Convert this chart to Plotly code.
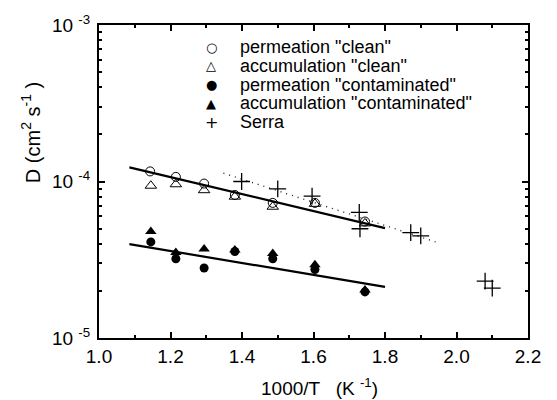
import plotly.graph_objects as go

# 1000/T (K^-1) and diffusion coefficient D (cm^2 s^-1)
x_perm_clean = [1.143, 1.215, 1.294, 1.380, 1.486, 1.604, 1.744]
d_perm_clean = [1.16e-4, 1.07e-4, 9.7e-5, 8.2e-5, 7.3e-5, 7.3e-5, 5.55e-5]

x_acc_clean = [1.145, 1.215, 1.294, 1.380, 1.486, 1.604, 1.744]
d_acc_clean = [9.4e-5, 9.6e-5, 8.8e-5, 8.0e-5, 6.9e-5, 7.2e-5, 5.4e-5]

x_perm_cont = [1.145, 1.215, 1.294, 1.380, 1.486, 1.604, 1.744]
d_perm_cont = [4.11e-5, 3.21e-5, 2.8e-5, 3.57e-5, 3.21e-5, 2.74e-5, 1.97e-5]

x_acc_cont = [1.145, 1.215, 1.294, 1.380, 1.486, 1.604, 1.744]
d_acc_cont = [4.8e-5, 3.52e-5, 3.7e-5, 3.65e-5, 3.47e-5, 2.94e-5, 2.03e-5]

x_serra = [1.399, 1.500, 1.596, 1.728, 1.730, 1.872, 1.900, 2.080, 2.100]
d_serra = [1.0e-4, 8.97e-5, 8.07e-5, 6.35e-5, 4.99e-5, 4.71e-5, 4.49e-5, 2.31e-5, 2.08e-5]

# Arrhenius fits (end points)
x_fit = [1.085, 1.800]
d_fit_clean = [1.23e-4, 5.04e-5]
d_fit_cont = [3.98e-5, 2.12e-5]
x_fit_serra = [1.348, 1.949]
d_fit_serra = [1.13e-4, 4.06e-5]

x_ticks = [1.0, 1.2, 1.4, 1.6, 1.8, 2.0, 2.2]
x_tick_text = ["1.0", "1.2", "1.4", "1.6", "1.8", "2.0", "2.2"]
y_ticks = [1e-5, 1e-4, 1e-3]
y_tick_text = ["10 <sup>-5</sup>", "10 <sup>-4</sup>", "10 <sup>-3</sup>"]

# key entries: glyph and label
key_glyphs = ["○", "△", "●", "▲", "+"]
key_labels = ['permeation "clean"', 'accumulation "clean"',
              'permeation "contaminated"', 'accumulation "contaminated"', "Serra"]

FONT = "Arial, Liberation Sans, sans-serif"
fig = go.Figure()

fig.add_trace(go.Scatter(x=x_fit, y=d_fit_clean, mode="lines",
                         line=dict(color="black", width=2.2), showlegend=False))
fig.add_trace(go.Scatter(x=x_fit, y=d_fit_cont, mode="lines",
                         line=dict(color="black", width=2.2), showlegend=False))
fig.add_trace(go.Scatter(x=x_fit_serra, y=d_fit_serra, mode="lines",
                         line=dict(color="#222", width=1.4, dash="1px,5px"), showlegend=False))

fig.add_trace(go.Scatter(x=x_perm_clean, y=d_perm_clean, mode="markers",
                         name=key_labels[0], showlegend=False,
                         marker=dict(symbol="circle-open", size=9, color="black",
                                     line=dict(width=1))))
fig.add_trace(go.Scatter(x=x_acc_clean, y=d_acc_clean, mode="markers",
                         name=key_labels[1], showlegend=False,
                         marker=dict(symbol="triangle-up-open", size=10, color="black",
                                     line=dict(width=1))))
fig.add_trace(go.Scatter(x=x_perm_cont, y=d_perm_cont, mode="markers",
                         name=key_labels[2], showlegend=False,
                         marker=dict(symbol="circle", size=9, color="black")))
fig.add_trace(go.Scatter(x=x_acc_cont, y=d_acc_cont, mode="markers",
                         name=key_labels[3], showlegend=False,
                         marker=dict(symbol="triangle-up", size=10, color="black")))
fig.add_trace(go.Scatter(x=x_serra, y=d_serra, mode="markers",
                         name=key_labels[4], showlegend=False,
                         marker=dict(symbol="cross-thin-open", size=12, color="black",
                                     line=dict(width=1.3, color="black"))))

fig.update_xaxes(range=[1.0, 2.2], tickvals=x_ticks, ticktext=x_tick_text,
                 ticks="inside", ticklen=6, tickwidth=1.5, tickcolor="black",
                 minor=dict(ticks="inside", ticklen=3, tickwidth=1.5, tickcolor="black",
                            tickvals=[1.1, 1.3, 1.5, 1.7, 1.9, 2.1]),
                 showline=True, linewidth=2, linecolor="black", mirror="ticks",
                 showgrid=False, zeroline=False,
                 tickfont=dict(family=FONT, size=19, color="black"))
fig.update_yaxes(type="log", range=[-5, -3], tickvals=y_ticks, ticktext=y_tick_text,
                 ticks="inside", ticklen=6, tickwidth=1.5, tickcolor="black",
                 ticklabelstandoff=3,
                 minor=dict(ticks="inside", ticklen=3, tickwidth=1.5, tickcolor="black",
                            tickvals=[k * 1e-5 for k in range(2, 10)] + [k * 1e-4 for k in range(2, 10)]),
                 showline=True, linewidth=2, linecolor="black", mirror="ticks",
                 showgrid=False, zeroline=False,
                 tickfont=dict(family=FONT, size=19, color="black"))

fig.add_annotation(text="D (cm<sup>2</sup> s<sup>-1</sup> )", textangle=-90,
                   xref="paper", yref="paper", x=-0.158, y=0.655,
                   xanchor="center", yanchor="middle",
                   showarrow=False, font=dict(family=FONT, size=20, color="black"))
fig.add_annotation(text="1000/T   (K <sup>-1</sup>)",
                   xref="paper", yref="paper", x=0.515, y=-0.157,
                   xanchor="center", yanchor="middle",
                   showarrow=False, font=dict(family=FONT, size=19, color="black"))

# key block in the upper part of the plot area
plot_l, plot_w, plot_b, plot_h = 99, 429, 338, 319
row_y = [41.7, 60.7, 80.0, 99.0, 118.0]
for glyph, label, py in zip(key_glyphs, key_labels, row_y):
    yp = (plot_b - py) / plot_h
    fig.add_annotation(text=glyph, xref="paper", yref="paper",
                       x=(211 - plot_l) / plot_w, y=yp, xanchor="center", yanchor="middle",
                       showarrow=False,
                       font=dict(family="DejaVu Sans", size=13 if glyph != "+" else 16,
                                 color="black"))
    fig.add_annotation(text=label, xref="paper", yref="paper",
                       x=(238 - plot_l) / plot_w, y=yp, xanchor="left", yanchor="middle",
                       showarrow=False, font=dict(family=FONT, size=18, color="black"))

fig.update_layout(
    width=557, height=400,
    margin=dict(l=99, r=29, t=19, b=62),
    paper_bgcolor="white", plot_bgcolor="white",
    font=dict(family=FONT, color="black"),
    showlegend=False,
)

fig.write_html("out.html")
